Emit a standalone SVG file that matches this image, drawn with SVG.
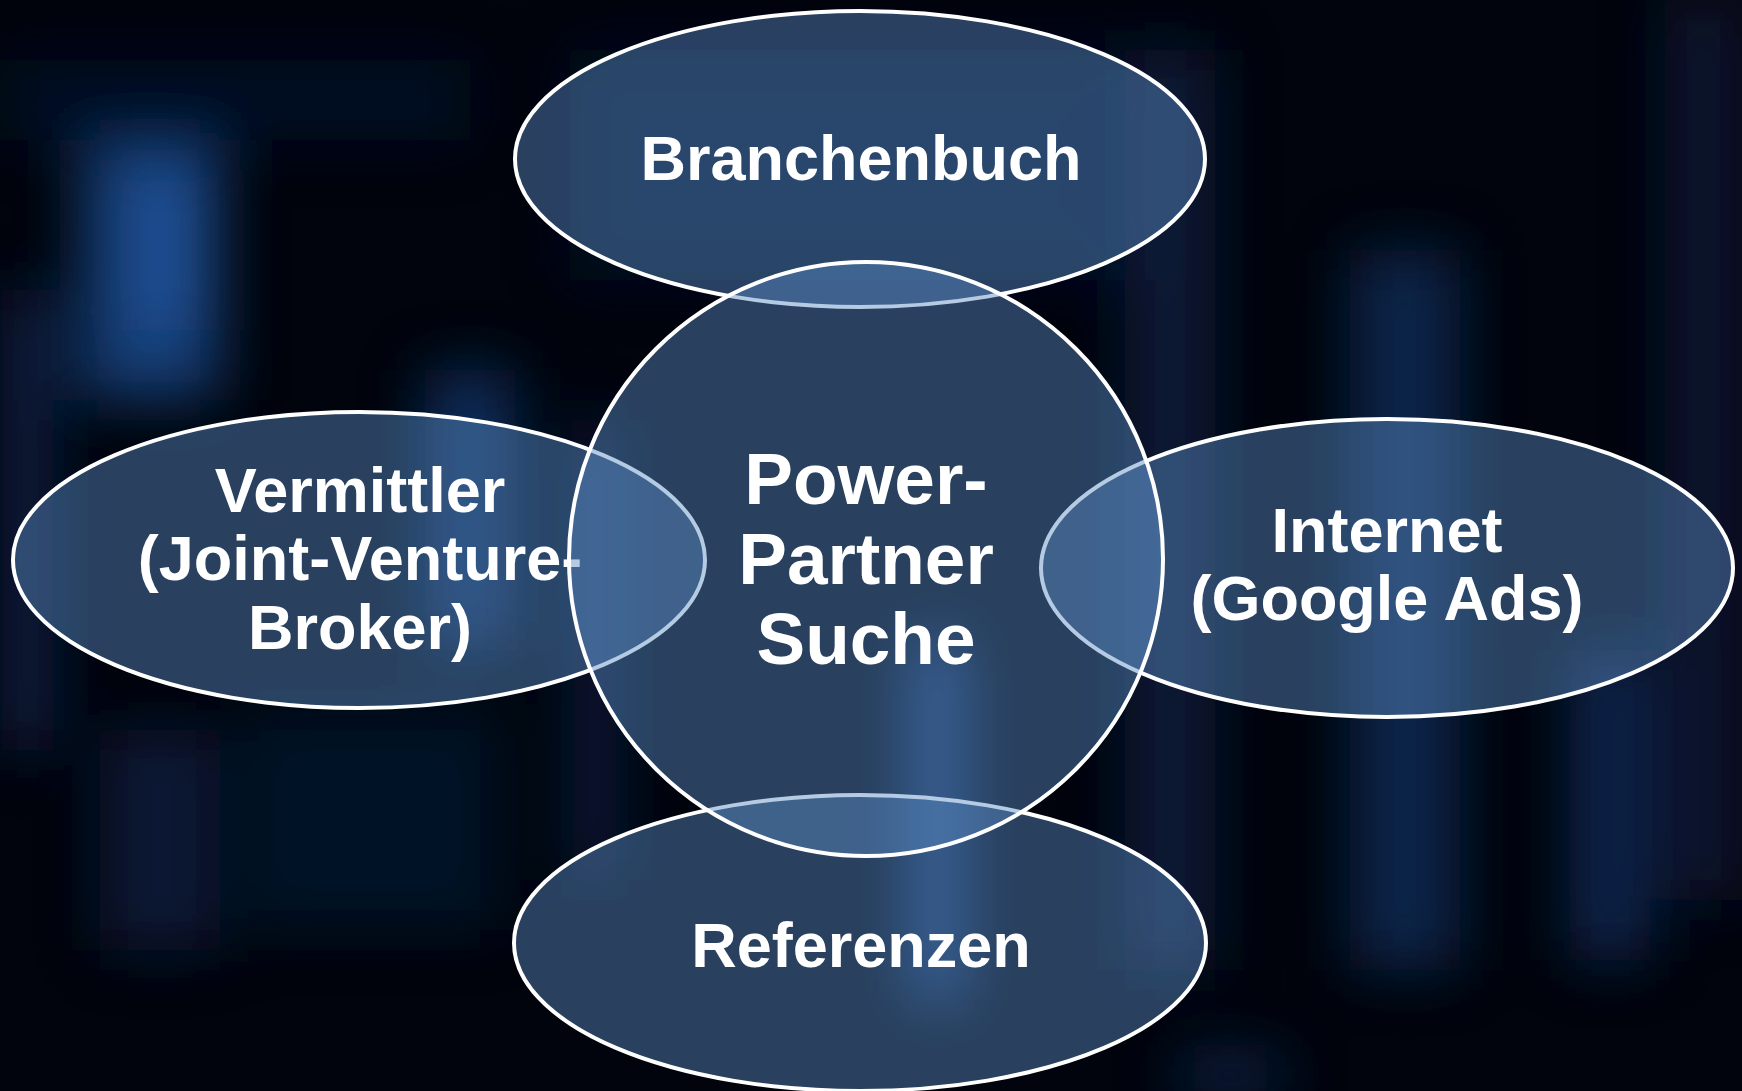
<svg xmlns="http://www.w3.org/2000/svg" width="1742" height="1091" viewBox="0 0 1742 1091">
  <defs>
    <filter id="blur" x="-50%" y="-50%" width="200%" height="200%">
      <feGaussianBlur stdDeviation="30"/>
    </filter>
    <style>
      .shape { fill: #5a8bc3; fill-opacity: 0.45; stroke: #ffffff; stroke-width: 4; }
      .lbl { font-family: "Liberation Sans", Arial, sans-serif; font-weight: bold; fill: #ffffff; text-anchor: middle; font-size: 63px; }
      .center { font-size: 73px; }
    </style>
  </defs>

  <!-- background -->
  <rect x="0" y="0" width="1742" height="1091" fill="#01040c"/>
  <g id="background" filter="url(#blur)">
    <rect x="80" y="140" width="140" height="260" fill="#1d4f96" opacity="0.75"/>
    <rect x="135" y="170" width="60" height="160" fill="#2a62b0" opacity="0.6"/>
    <rect x="425" y="370" width="90" height="280" fill="#163f7d" opacity="0.7"/>
    <rect x="0" y="290" width="55" height="460" fill="#0e2a58" opacity="0.7"/>
    <rect x="100" y="730" width="120" height="220" fill="#0f2a55" opacity="0.55"/>
    <rect x="240" y="710" width="260" height="220" fill="#0c2248" opacity="0.45"/>
    <rect x="915" y="640" width="45" height="360" fill="#2a60b0" opacity="0.8"/>
    <rect x="570" y="420" width="50" height="460" fill="#123468" opacity="0.5"/>
    <rect x="1350" y="250" width="110" height="720" fill="#17407c" opacity="0.55"/>
    <rect x="1125" y="50" width="90" height="920" fill="#0c244a" opacity="0.7"/>
    <rect x="1570" y="650" width="80" height="310" fill="#13386e" opacity="0.65"/>
    <rect x="1665" y="0" width="77" height="900" fill="#0a1e40" opacity="0.7"/>
    <rect x="1175" y="1060" width="110" height="30" fill="#1a4080" opacity="0.7"/>
    <rect x="570" y="50" width="580" height="230" fill="#0a1c3c" opacity="0.5"/>
    <rect x="0" y="60" width="470" height="80" fill="#0a1c3c" opacity="0.5"/>
  </g>

  <g id="connectors"></g>

  <g id="node-branchenbuch">
    <ellipse class="shape" cx="860" cy="159" rx="345" ry="148"/>
    <text class="lbl" x="861" y="180">Branchenbuch</text>
  </g>

  <g id="node-vermittler">
    <ellipse class="shape" cx="359" cy="560" rx="346" ry="148"/>
    <text class="lbl" x="360" y="512">Vermittler</text>
    <text class="lbl" x="360" y="580">(Joint-Venture-</text>
    <text class="lbl" x="360" y="649">Broker)</text>
  </g>

  <g id="node-internet">
    <ellipse class="shape" cx="1387" cy="568" rx="346" ry="149"/>
    <text class="lbl" x="1387" y="552">Internet</text>
    <text class="lbl" x="1387" y="620">(Google Ads)</text>
  </g>

  <g id="node-referenzen">
    <ellipse class="shape" cx="860" cy="943" rx="346" ry="148"/>
    <text class="lbl" x="861" y="967">Referenzen</text>
  </g>

  <g id="node-center">
    <circle class="shape" cx="866" cy="559" r="297"/>
    <text class="lbl center" x="866" y="504">Power-</text>
    <text class="lbl center" x="866" y="584">Partner</text>
    <text class="lbl center" x="866" y="664">Suche</text>
  </g>
</svg>
